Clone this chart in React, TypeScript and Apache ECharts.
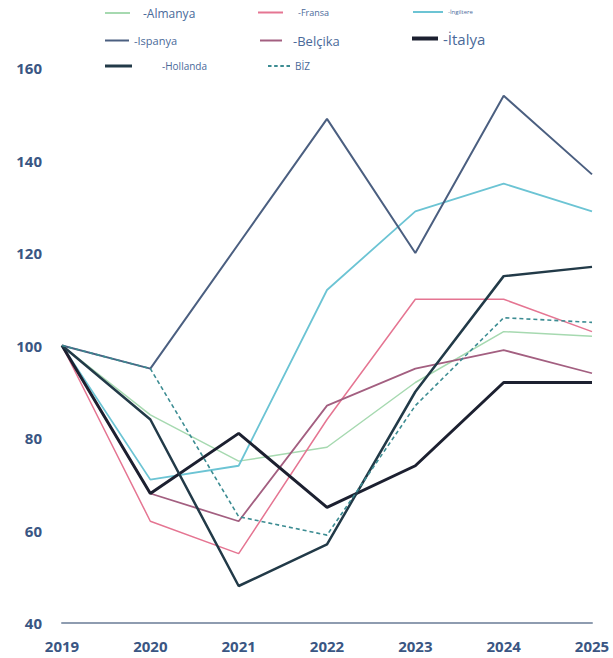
import React, { useEffect, useRef } from "react";
import * as echarts from "echarts";

const years = ["2019", "2020", "2021", "2022", "2023", "2024", "2025"];
const almanya = [100, 85, 75, 78, 92, 103, 102];
const fransa = [100, 62, 55, 84, 110, 110, 103];
const ingiltere = [100, 71, 74, 112, 129, 135, 129];
const ispanya = [100, 95, 122, 149, 120, 154, 137];
const belcika = [100, 68, 62, 87, 95, 99, 94];
const italya = [100, 68, 81, 65, 74, 92, 92];
const hollanda = [100, 84, 48, 57, 90, 115, 117];
const biz = [100, 95, 63, 59, 87, 106, 105];

const FONT = "'Open Sans', 'Noto Sans', sans-serif";
const LEG_COLOR = "#4a6a9a";
const AXIS_COLOR = "#3a5683";
const DASH_ICON = "path://M0,0h4v2h-4z M7,0h4v2h-4z M14,0h4v2h-4z M21,0h4v2h-4z";

export default function App() {
  const ref = useRef<HTMLDivElement>(null);
  useEffect(() => {
    if (!ref.current) return;
    const chart = echarts.init(ref.current, undefined, { renderer: "svg" });
    const mk = (name: string, data: number[], color: string, width: number, type: any = "solid") => ({
      name,
      type: "line",
      data,
      symbol: "none",
      lineStyle: { color, width, type },
      itemStyle: { color },
      z: 2,
    });
    const leg = (
      name: string,
      label: string,
      left: number,
      cy: number,
      iw: number,
      ih: number,
      fs: number,
      pad: number,
      icon: string = "rect"
    ) => ({
      data: [{ name, icon }],
      left,
      top: cy - Math.round(fs * 0.65),
      padding: 0,
      itemWidth: iw,
      itemHeight: ih,
      selectedMode: false,
      formatter: () => label,
      textStyle: {
        fontSize: fs,
        color: LEG_COLOR,
        fontFamily: FONT,
        padding: [0, 0, 0, pad],
      },
    });
    chart.setOption({
      animation: false,
      backgroundColor: "#ffffff",
      legend: [
        leg("Almanya", "-Almanya", 105, 15, 25, 2, 12, 8),
        leg("Fransa", "-Fransa", 258, 14, 25, 2, 9, 10),
        leg("İngiltere", "-İngiltere", 413, 13, 30, 2, 6, 0),
        leg("Ispanya", "-Ispanya", 105, 42, 24, 2, 11, 0),
        leg("Belçika", "-Belçika", 260, 42, 22, 2, 13, 6),
        leg("İtalya", "-İtalya", 412, 41, 26, 4, 15, 0),
        leg("Hollanda", "-Hollanda", 105, 68, 27, 3, 10, 25),
        leg("BİZ", "BİZ", 268, 68, 22, 2, 10, 0, DASH_ICON),
      ],
      grid: { left: 62, right: 21, top: 68, bottom: 35 },
      xAxis: {
        type: "category",
        data: years,
        boundaryGap: false,
        axisLine: { show: true, lineStyle: { color: "#8e9cb0", width: 2 } },
        axisTick: { show: false },
        axisLabel: {
          color: AXIS_COLOR,
          fontSize: 15,
          fontWeight: "bold",
          fontFamily: FONT,
          margin: 15,
        },
        splitLine: { show: false },
      },
      yAxis: {
        type: "value",
        min: 40,
        max: 160,
        interval: 20,
        axisLine: { show: false },
        axisTick: { show: false },
        splitLine: { show: false },
        axisLabel: {
          color: AXIS_COLOR,
          fontSize: 15,
          fontWeight: "bold",
          fontFamily: FONT,
          margin: 20,
          padding: [0, 0, 6, 0],
        },
      },
      series: [
        mk("Almanya", almanya, "#a6d9b0", 1.5),
        mk("Fransa", fransa, "#e57592", 1.5),
        mk("İngiltere", ingiltere, "#6cc4d4", 1.8),
        mk("Ispanya", ispanya, "#4b5f80", 2),
        mk("Belçika", belcika, "#a35f80", 1.8),
        mk("İtalya", italya, "#1c2030", 3),
        mk("Hollanda", hollanda, "#223a48", 2.5),
        mk("BİZ", biz, "#3c8c92", 1.6, [4, 3]),
      ],
    });
    return () => chart.dispose();
  }, []);
  return (
    <div
      ref={ref}
      style={{ position: "fixed", left: 0, top: 0, width: 613, height: 658 }}
    />
  );
}
